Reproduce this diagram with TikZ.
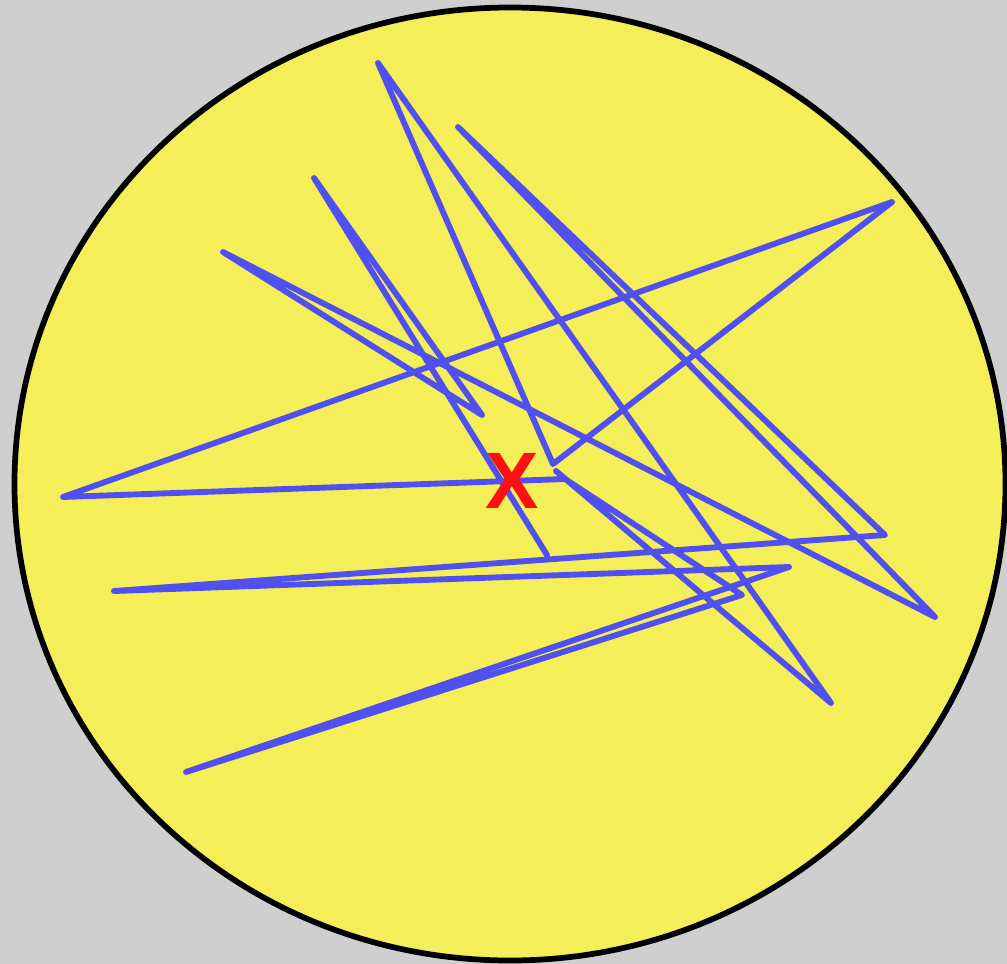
\documentclass[tikz,border=0pt]{standalone}
\usepackage{fontspec}
\newfontfamily\xfont{Liberation Sans}
\definecolor{bggray}{RGB}{207,207,207}
\definecolor{disc}{RGB}{244,239,88}
\definecolor{scribble}{RGB}{80,80,240}
\definecolor{xred}{RGB}{255,16,16}
\tikzset{
  discstyle/.style={fill=disc, draw=black, line width=4.3pt},
  scribblestyle/.style={draw=scribble, line width=4.4pt, line cap=round, line join=round},
  markstyle/.style={text=xred, font=\xfont\bfseries\fontsize{60}{62}\selectfont, inner sep=0pt}
}
\begin{document}
\begin{tikzpicture}[x=0.75pt,y=-0.75pt]
\useasboundingbox (0,0) rectangle (1007,964);
\fill[bggray] (0,0) rectangle (1007,964);
\draw[discstyle] (510,484) ellipse [x radius=495.5, y radius=476.5];
\draw[scribblestyle] (547,555) -- (314,178) -- (482,415) -- (223,252) -- (935,617)
  -- (458,127) -- (885,535) -- (114,591) -- (789,567) -- (186,772) -- (742,595)
  -- (565,479) -- (63,497) -- (892,202) -- (553,464) -- (378,63) -- (831,703)
  -- (556,471);
\node[markstyle] (mark) at (512,481) {X};
\end{tikzpicture}
\end{document}
